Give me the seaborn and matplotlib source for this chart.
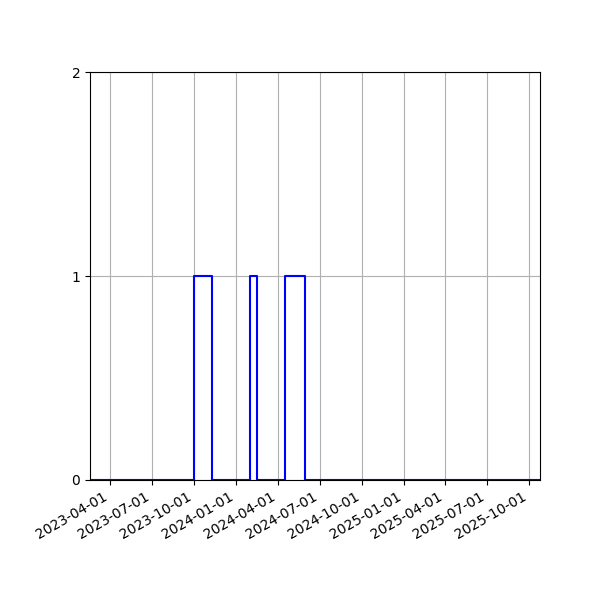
import pandas as pd
import seaborn as sns
import matplotlib
matplotlib.use("Agg")
import matplotlib.pyplot as plt
import matplotlib.dates as mdates

# state changes (0 = off, 1 = on)
dates = [
    "2023-02-16", "2023-10-01", "2023-11-09", "2024-02-01",
    "2024-02-15", "2024-04-16", "2024-05-30", "2025-10-25",
]
states = [0, 1, 0, 1, 0, 1, 0, 0]
tick_dates = [
    "2023-04-01", "2023-07-01", "2023-10-01", "2024-01-01", "2024-04-01",
    "2024-07-01", "2024-10-01", "2025-01-01", "2025-04-01", "2025-07-01",
    "2025-10-01",
]

df = pd.DataFrame({"date": pd.to_datetime(dates), "state": states})

fig, ax = plt.subplots(figsize=(6, 6), dpi=100)

sns.lineplot(data=df, x="date", y="state", ax=ax, color="blue",
             drawstyle="steps-post", linewidth=1.5, estimator=None)

ax.set_xlim(df["date"].min(), df["date"].max())
ax.set_ylim(0, 2)
ax.set_yticks([0, 1, 2])
ax.set_xticks(pd.to_datetime(tick_dates))
ax.xaxis.set_major_formatter(mdates.DateFormatter("%Y-%m-%d"))
ax.set_xlabel("")
ax.set_ylabel("")
ax.grid(True)

fig.autofmt_xdate()
plt.subplots_adjust(left=0.15, right=0.9, top=0.88, bottom=0.2)
plt.savefig("out.png", dpi=100)
